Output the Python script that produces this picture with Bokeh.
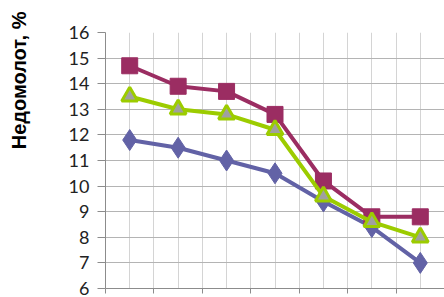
from bokeh.plotting import figure
from bokeh.models import FixedTicker, Range1d, Title
from bokeh.embed import file_html
from bokeh.resources import INLINE

# Data
categories = [1, 2, 3, 4, 5, 6, 7]
series_diamond = [11.8, 11.5, 11.0, 10.5, 9.4, 8.4, 7.0]
series_square = [14.7, 13.9, 13.7, 12.8, 10.2, 8.8, 8.8]
series_triangle = [13.5, 13.0, 12.8, 12.2, 9.6, 8.6, 8.0]
y_ticks = [6, 7, 8, 9, 10, 11, 12, 13, 14, 15, 16]
y_label = "Недомолот, %"

xs = [c - 0.5 for c in categories]

p = figure(width=444, height=297, output_backend="svg", toolbar_location=None,
           x_range=Range1d(0, len(categories)), y_range=Range1d(6, 16),
           min_border_left=105, min_border_top=32, min_border_right=0, min_border_bottom=9)
p.outline_line_color = None
p.background_fill_color = "white"
p.border_fill_color = "white"

# axes
p.yaxis.ticker = FixedTicker(ticks=y_ticks)
p.yaxis.major_label_text_font = "Lato"
p.yaxis.major_label_text_font_size = "18px"
p.yaxis.major_label_text_color = "#222222"
p.yaxis.major_label_standoff = 8
p.yaxis.major_tick_out = 8
p.yaxis.major_tick_in = 0
p.yaxis.minor_tick_out = 0
p.yaxis.minor_tick_in = 0
p.yaxis.axis_line_color = "#8c8c8c"
p.yaxis.major_tick_line_color = "#8c8c8c"
# spacer so that the vertical title sits at the far left edge
p.yaxis.axis_label = " "
p.yaxis.axis_label_text_font_size = "1px"
p.yaxis.axis_label_standoff = 30

x_ticks = list(range(0, len(categories) + 1))
p.xaxis.ticker = FixedTicker(ticks=x_ticks)
p.xaxis.major_label_overrides = {t: "" for t in x_ticks}
p.xaxis.major_label_text_font_size = "1px"
p.xaxis.major_label_standoff = 0
p.xaxis.major_tick_out = 5
p.xaxis.major_tick_in = 0
p.xaxis.minor_tick_out = 0
p.xaxis.axis_line_color = "#8c8c8c"
p.xaxis.major_tick_line_color = "#8c8c8c"

p.xgrid.ticker = FixedTicker(ticks=[i * 0.5 for i in range(0, 2 * len(categories) + 1)])
p.xgrid.grid_line_color = "#d4d4d4"
p.ygrid.grid_line_color = "#b4b4b4"

# series
c_diam = "#6262a6"
c_sq = "#9b2d62"
c_tri = "#9ccc00"

p.line(xs, series_diamond, line_color=c_diam, line_width=4)
p.scatter(xs, series_diamond, marker="diamond", size=21, fill_color=c_diam, line_color=c_diam)

p.line(xs, series_square, line_color=c_sq, line_width=4)
p.scatter(xs, series_square, marker="square", size=16, fill_color=c_sq, line_color=c_sq)

p.line(xs, series_triangle, line_color=c_tri, line_width=4)
p.scatter(xs, series_triangle, marker="triangle", size=16, fill_color="#a0a0a0",
          line_color=c_tri, line_width=3)

t = Title(text=y_label, align="right", vertical_align="top", offset=-21, standoff=0,
          text_font="Liberation Sans", text_font_size="20px", text_font_style="bold",
          text_color="#000000")
p.add_layout(t, "left")

open("out.html", "w").write(file_html(p, INLINE))
